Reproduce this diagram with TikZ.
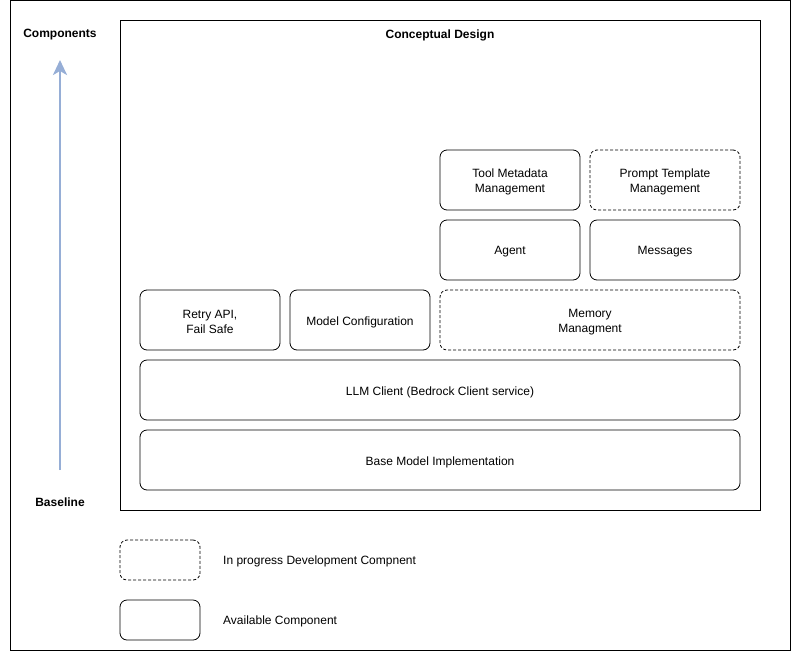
\documentclass[tikz,border=0pt]{standalone}
\usepackage{fontspec}
\setmainfont{Liberation Sans}
\usetikzlibrary{arrows.meta}
\definecolor{arrowblue}{RGB}{150,174,214}
\begin{document}
\begin{tikzpicture}[x=1pt,y=-1pt,
  comp/.style={draw=black,line width=0.8pt,rounded corners=7pt},
  wip/.style={comp,dash pattern=on 3pt off 2pt},
  ct/.style={label={[align=center,yshift=-2pt,font=\fontsize{12}{14.5}\selectfont]center:#1}},
  lbl/.style={font=\fontsize{12}{14.5}\selectfont\bfseries},
  txt/.style={font=\fontsize{12}{14.5}\selectfont,anchor=west,inner sep=0pt}]
\useasboundingbox (0,0) rectangle (792,651);
\draw[line width=0.8pt] (10,0.5) rectangle (790,650);
\draw[line width=0.8pt] (120,20.5) rectangle (760,510);
% labels
\node[lbl] (comps) at (60,35) {Components};
\node[lbl] (base) at (60,502) {Baseline};
\node[lbl] (title) at (440,35) {Conceptual Design};
\coordinate (abot) at (60,470);
\coordinate (atop) at (60,60);
\draw[arrowblue,line width=2.6pt,-{Stealth[length=15pt,width=14pt,inset=4pt]}] (abot) -- (atop);
% components
\node[comp,minimum width=140pt,minimum height=60pt,ct={Tool Metadata\\Management}] (tool) at (510,180) {};
\node[wip,minimum width=150pt,minimum height=60pt,ct={Prompt Template\\Management}] (prompt) at (665,180) {};
\node[comp,minimum width=140pt,minimum height=60pt,ct={Agent}] (agent) at (510,250) {};
\node[comp,minimum width=150pt,minimum height=60pt,ct={Messages}] (msg) at (665,250) {};
\node[comp,minimum width=140pt,minimum height=60pt,ct={Retry API,\\Fail Safe}] (retry) at (210,320) {};
\node[comp,minimum width=140pt,minimum height=60pt,ct={Model Configuration}] (model) at (360,320) {};
\node[wip,minimum width=300pt,minimum height=60pt,ct={Memory\\Managment}] (mem) at (590,320) {};
\node[comp,minimum width=600pt,minimum height=60pt,ct={LLM Client (Bedrock Client service)}] (llm) at (440,390) {};
\node[comp,minimum width=600pt,minimum height=60pt,ct={Base Model Implementation}] (bmi) at (440,460) {};
% legend
\node[wip,minimum width=80pt,minimum height=40pt] (lwip) at (160,560) {};
\node[comp,minimum width=80pt,minimum height=40pt] (lok) at (160,620) {};
\node[txt] (twip) at (223,561) {In progress Development Compnent};
\node[txt] (tok) at (223,621) {Available Component};
\end{tikzpicture}
\end{document}
